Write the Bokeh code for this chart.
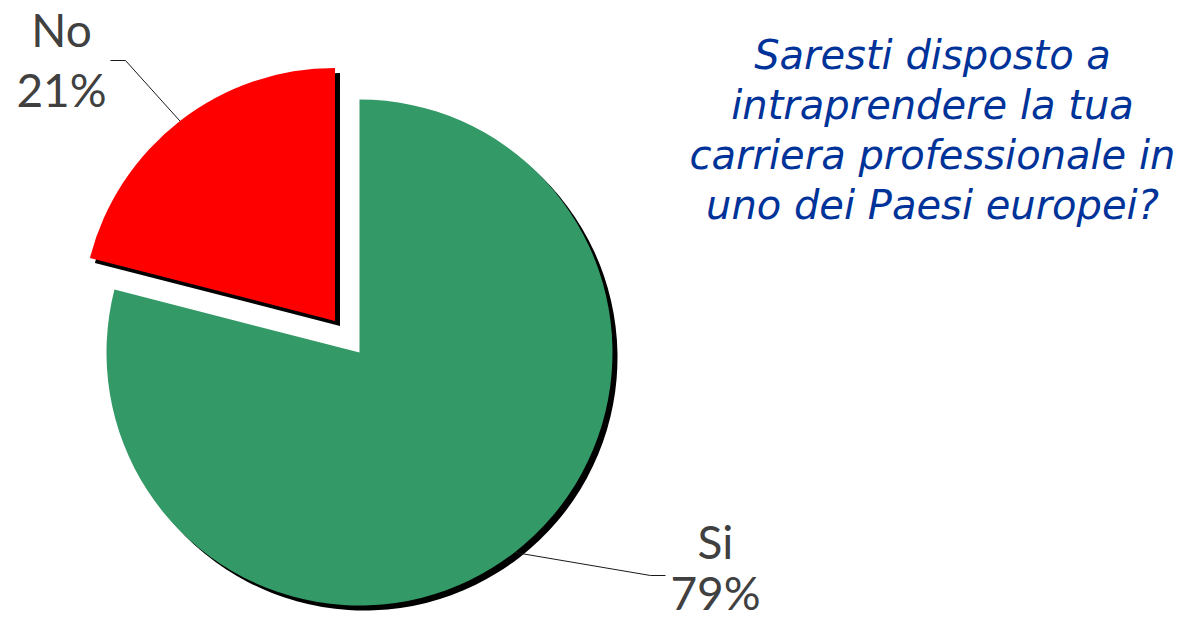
import math
from bokeh.plotting import figure
from bokeh.models import Range1d
from bokeh.embed import file_html
from bokeh.resources import INLINE
from bokeh.core.properties import value

# ---- data ----
categories = ["Si", "No"]
values = [79, 21]
colors = ["#339966", "#FF0000"]
title_lines = ["Saresti disposto a", "intraprendere la tua",
               "carriera professionale in", "uno dei Paesi europei?"]

# ---- layout (screen px -> data: x same, y = 624 - screen_y) ----
W, H = 1181, 624
LABEL_FONT = "Lato"
TITLE_FONT = "DejaVu Sans"
def sy(y):
    return 624 - y

p = figure(width=W, height=H, x_range=Range1d(0, W), y_range=Range1d(0, H),
           output_backend="svg", toolbar_location=None, min_border=0)
p.axis.visible = False
p.grid.visible = False
p.outline_line_color = None
p.background_fill_color = "white"

cx, cy, R = 359, sy(352), 253
explode = [0, 40]
shadow = 5

total = float(sum(values))
start = math.pi / 2
xs, ys, sa, ea, mids = [], [], [], [], []
for v, ex in zip(values, explode):
    end = start - 2 * math.pi * v / total
    mid = (start + end) / 2
    xs.append(cx + ex * math.cos(mid))
    ys.append(cy + ex * math.sin(mid))
    sa.append(end)
    ea.append(start)
    mids.append(mid)
    start = end

# shadows
p.wedge(x=[x + shadow for x in xs], y=[y - shadow for y in ys], radius=R,
        start_angle=sa, end_angle=ea, direction="anticlock",
        fill_color="black", line_color=None)
# slices
p.wedge(x=xs, y=ys, radius=R, start_angle=sa, end_angle=ea, direction="anticlock",
        fill_color=colors, line_color=None)

# leader lines and labels
label_cfg = {
    "Si": dict(elbow=(650, 575), end=(665, 575), x=715, y1=541, y2=592),
    "No": dict(elbow=(125, 60), end=(110, 60), x=61, y1=29, y2=89),
}
for i, cat in enumerate(categories):
    cfg = label_cfg[cat]
    px = xs[i] + R * math.cos(mids[i])
    py = ys[i] + R * math.sin(mids[i])
    p.line([px, cfg["elbow"][0], cfg["end"][0]],
           [py, sy(cfg["elbow"][1]), sy(cfg["end"][1])],
           line_color="#1a1a1a", line_width=1)
    pct = f"{round(values[i] / total * 100)}%"
    p.text(x=[cfg["x"], cfg["x"]], y=[sy(cfg["y1"]), sy(cfg["y2"])], text=[cat, pct],
           text_font=value(LABEL_FONT), text_font_size="46px", text_color="#404040",
           text_align="center", text_baseline="alphabetic")

# title
p.text(x=[932] * len(title_lines), y=[sy(54 + 50 * k) for k in range(len(title_lines))],
       text=title_lines, text_font=value(TITLE_FONT), text_font_style="italic",
       text_font_size="40px", text_color="#003399",
       text_align="center", text_baseline="alphabetic")

open("out.html", "w").write(file_html(p, INLINE))
